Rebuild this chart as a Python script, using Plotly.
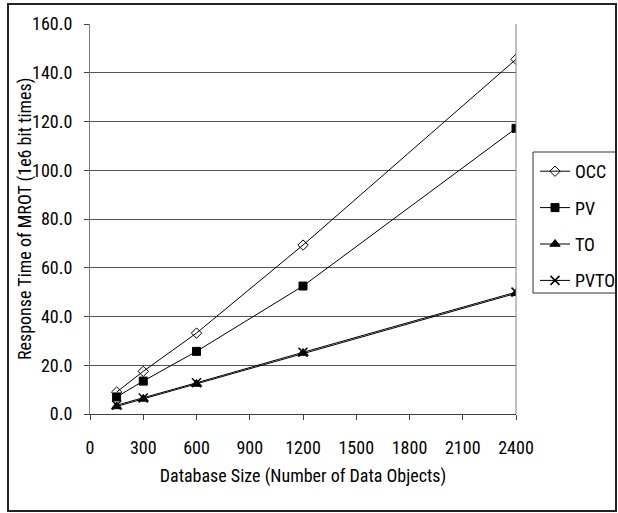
import plotly.graph_objects as go

sizes = [150, 300, 600, 1200, 2400]
occ = [9.0, 17.5, 33.2, 69.3, 145.5]
pv = [7.0, 13.5, 25.7, 52.5, 117.2]
to = [3.1, 6.2, 12.3, 25.0, 49.5]
pvto = [3.6, 6.6, 12.8, 25.3, 50.0]

series_names = ["OCC", "PV", "TO", "PVTO"]
series_vals = [occ, pv, to, pvto]
symbols = ["diamond-open", "square", "triangle-up", "x-thin-open"]
msizes = [8, 8, 9, 9]

x_title = "Database Size (Number of Data Objects)"
y_title = "Response Time of MROT (1e6 bit times)"

FONT = "Roboto Condensed, Liberation Sans, Arial, sans-serif"
FS = 18

fig = go.Figure()
for name, vals, sym, ms in zip(series_names, series_vals, symbols, msizes):
    fig.add_trace(go.Scatter(
        x=sizes, y=vals, name=name, mode="lines+markers",
        legendgroup=name,
        line=dict(color="black", width=1),
        marker=dict(symbol=sym, size=ms, color="black",
                    line=dict(color="black", width=1.5 if sym == "x-thin-open" else 1)),
    ))

L, R, T, B = 90, 102, 24, 99
W, H = 618, 513
pw, ph = W - L - R, H - T - B

def px(xp):
    return (xp - L) / pw

def py(yp):
    return (H - B - yp) / ph

fig.update_layout(
    width=W, height=H,
    margin=dict(l=L, r=R, t=T, b=B, autoexpand=False),
    paper_bgcolor="white", plot_bgcolor="white",
    font=dict(family=FONT, size=FS, color="black"),
    showlegend=True,
    legend=dict(x=px(535), y=py(153), xanchor="left", yanchor="top",
                borderwidth=0, bgcolor="rgba(0,0,0,0)",
                font=dict(family=FONT, size=FS), tracegroupgap=10,
                itemwidth=30),
    xaxis=dict(range=[0, 2400], tickvals=list(range(0, 2401, 300)),
               showgrid=False, showline=True, linecolor="#404040", linewidth=1,
               mirror=False, ticks="outside", ticklen=5, tickcolor="#404040",
               zeroline=False, ticklabelstandoff=12,
               tickfont=dict(family=FONT, size=FS),
               title=dict(text=x_title, standoff=12,
                          font=dict(family=FONT, size=FS))),
    yaxis=dict(range=[0, 160], dtick=20, tickformat=".1f",
               showgrid=True, gridcolor="#555555", gridwidth=1,
               showline=True, linecolor="#808080", linewidth=1,
               ticks="outside", ticklen=5, tickcolor="#404040",
               zeroline=False, ticklabelstandoff=8,
               tickfont=dict(family=FONT, size=FS)),
    annotations=[
        dict(text=y_title, xref="paper", yref="paper", x=px(25), y=0.5,
             xanchor="center", yanchor="middle", textangle=-90, showarrow=False,
             font=dict(family=FONT, size=FS)),
    ],
    shapes=[
        dict(type="line", xref="paper", yref="paper", x0=1, x1=1, y0=0, y1=1,
             line=dict(color="#808080", width=1)),
        dict(type="rect", xref="paper", yref="paper",
             x0=px(533), x1=px(616), y0=py(293), y1=py(152),
             line=dict(color="#333333", width=1), fillcolor="rgba(0,0,0,0)"),
        dict(type="rect", xref="paper", yref="paper",
             x0=px(8), x1=px(616), y0=py(511), y1=py(4),
             line=dict(color="#222222", width=2), fillcolor="rgba(0,0,0,0)"),
    ],
)

fig.write_html("out.html")
